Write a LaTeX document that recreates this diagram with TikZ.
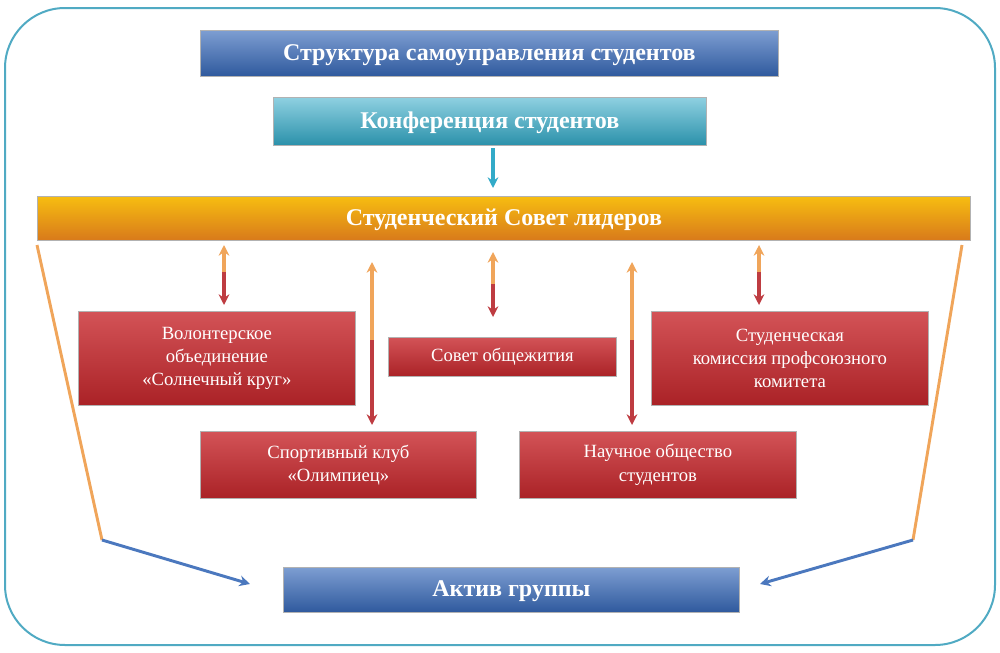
\documentclass[tikz,border=0pt]{standalone}
\usepackage{fontspec}
\setmainfont{Liberation Serif}
\usetikzlibrary{positioning,arrows.meta}
\definecolor{cframe}{RGB}{80,170,195}
\definecolor{cblue}{RGB}{55,105,185}
\definecolor{ccyan}{RGB}{50,170,200}
\definecolor{corange}{RGB}{240,135,30}
\definecolor{cred}{RGB}{200,40,45}
\definecolor{cline}{RGB}{240,165,90}
\definecolor{cdark}{RGB}{190,60,65}
\definecolor{carrow}{RGB}{75,120,190}
\begin{document}
\begin{tikzpicture}[x=0.75pt, y=-0.75pt,
    >={Stealth[length=8pt,width=8pt]},
    % Styles
    hbox/.style={draw=white!70!black, line width=0.6pt, anchor=north west, inner sep=0pt,
                 align=center, text=white, font=\bfseries\fontsize{18}{21}\selectfont,
                 text depth=2pt},
    bluebox/.style={hbox, top color=cblue!65!white, bottom color=cblue!85!black},
    cyanbox/.style={hbox, top color=ccyan!55!white, bottom color=ccyan!85!black},
    orangebox/.style={hbox, top color=corange!55!yellow, bottom color=corange!90!black},
    redbox/.style={draw=white!70!black, line width=0.6pt, anchor=north west, inner sep=0pt,
                   align=center, text=white, top color=cred!80!white, bottom color=cred!85!black,
                   font=\fontsize{14}{17.5}\selectfont},
    uparr/.style={->, line width=2.4pt, color=cline},
    dnarr/.style={->, line width=2.4pt, color=cdark},
    side/.style={line width=2.2pt, color=cline},
    toact/.style={->, line width=2.2pt, color=carrow},
  ]
  \useasboundingbox (0,0) rectangle (1000,653);

  % Frame
  \draw[cframe, line width=1.5pt, rounded corners=45pt] (5,8) rectangle (995,645);

  % Header boxes
  \node[bluebox, minimum width=433.5pt, minimum height=34.5pt] (title) at (200,30)
    {Структура самоуправления студентов};
  \node[cyanbox, minimum width=324.75pt, minimum height=36pt] (conf) at (273,97)
    {Конференция студентов};
  \node[orangebox, minimum width=699.75pt, minimum height=33pt] (council) at (37,196)
    {Студенческий Совет лидеров};

  % Units
  \node[redbox, minimum width=207.75pt, minimum height=70.5pt] (volunt) at (78,311)
    {Волонтерское\\объединение\\«Солнечный круг»};
  \node[redbox, minimum width=171pt, minimum height=29.25pt] (dorm) at (388,337)
    {Совет общежития};
  \node[redbox, minimum width=207.75pt, minimum height=70.5pt] (union) at (651,311)
    {Студенческая\\комиссия профсоюзного\\комитета};
  \node[redbox, minimum width=207pt, minimum height=50.25pt] (sport) at (200,431)
    {Спортивный клуб\\«Олимпиец»};
  \node[redbox, minimum width=207.75pt, minimum height=50.25pt] (science) at (519,431)
    {Научное общество\\студентов};
  \node[bluebox, minimum width=342pt, minimum height=33.75pt] (activ) at (283,567)
    {Актив группы};

  % Arrows
  \coordinate (c1) at (493,148);
  \draw[->, line width=2.4pt, ccyan] (c1) -- (493,188);

  \foreach \x/\a/\m/\b in {224/245/272/305, 372/262/340/425, 493/252/284/317,
                           632/262/340/425, 759/245/272/305} {
    \coordinate (m) at (\x,\m);
    \draw[uparr] (m) -- (\x,\a);
    \draw[dnarr] (m) -- (\x,\b);
  }

  % Sides
  \coordinate (lt) at (37,245);
  \coordinate (lb) at (102,540);
  \coordinate (rt) at (962,245);
  \coordinate (rb) at (913,540);
  \draw[side] (lt) -- (lb);
  \draw[side] (rt) -- (rb);
  \draw[toact] (lb) -- (250,584);
  \draw[toact] (rb) -- (760,584);

\end{tikzpicture}
\end{document}
